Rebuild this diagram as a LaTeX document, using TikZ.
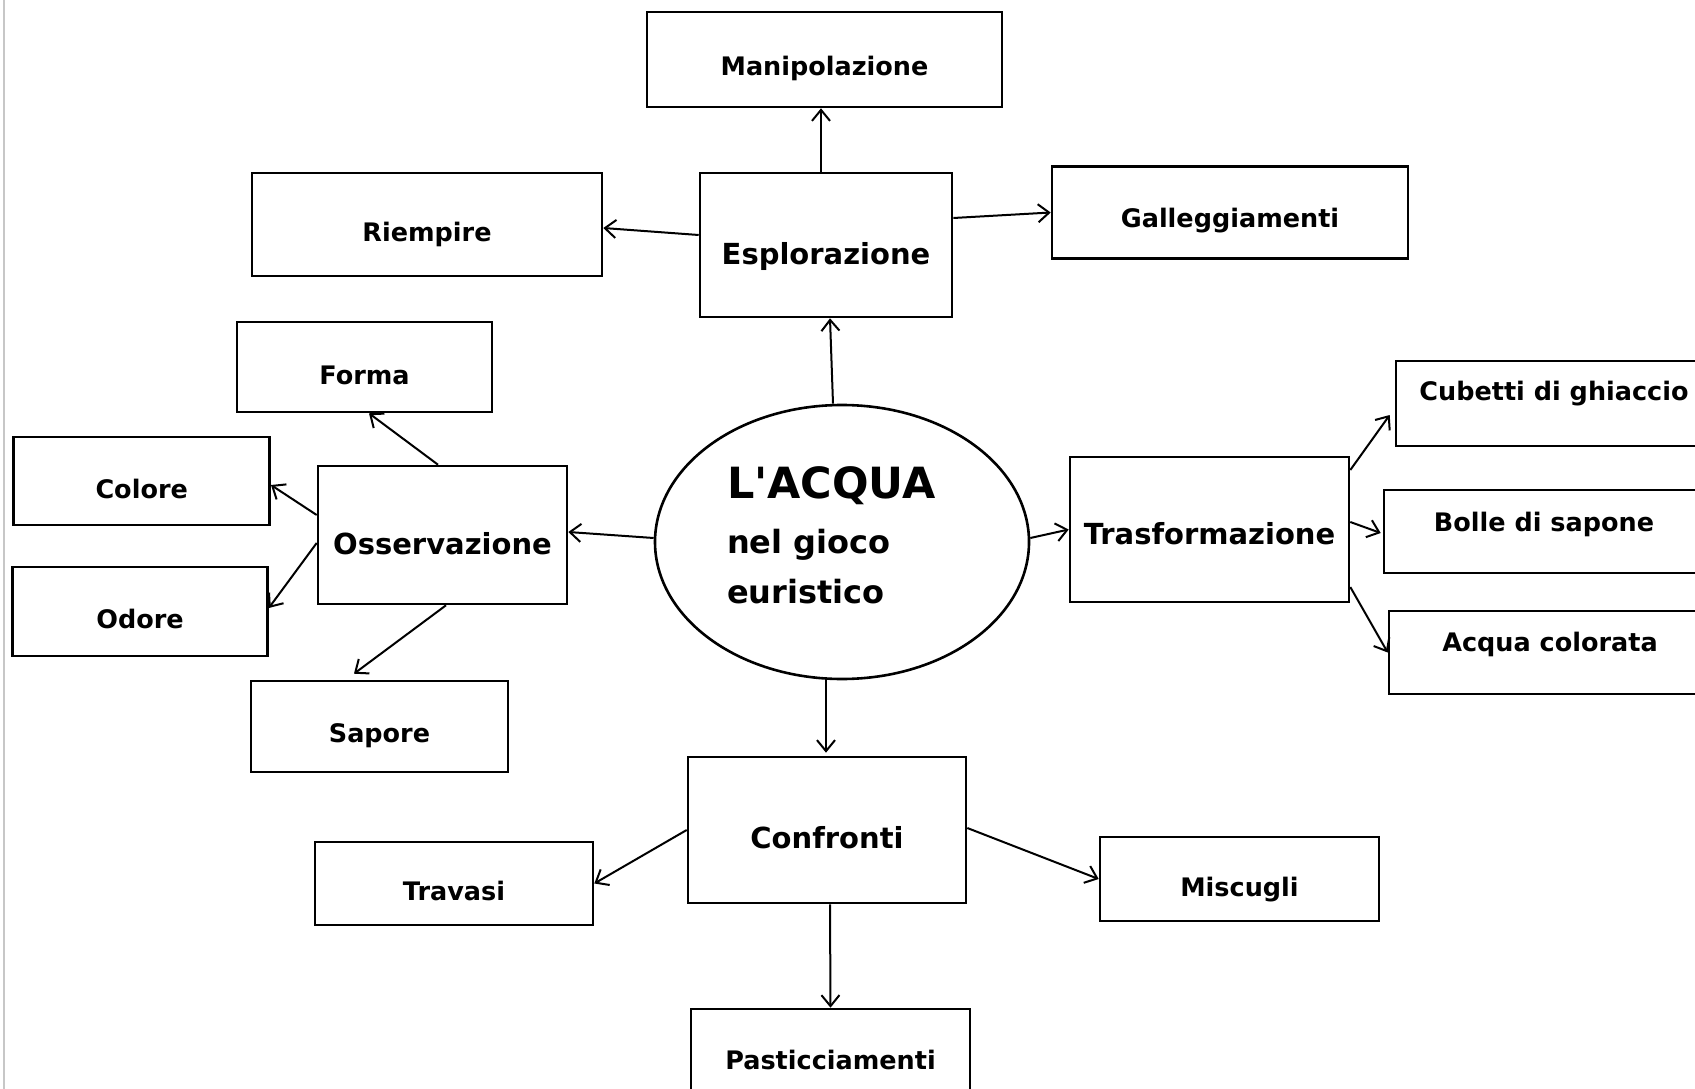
\documentclass[tikz,border=0pt]{standalone}
\usepackage{fontspec}
\setmainfont{DejaVu Sans}[Ligatures=TeXOff]
\usetikzlibrary{arrows.meta,calc,shapes.geometric}
\begin{document}
\begin{tikzpicture}[x=1pt,y=-1pt,
  box/.style={draw, line width=2.6pt, inner sep=0pt, text depth=0pt, text height=34pt,
    font=\bfseries\fontsize{25.5}{30}\selectfont},
  cat/.style={box, text height=39pt, font=\bfseries\fontsize{29}{34}\selectfont},
  sz/.style n args={2}{minimum width=#1, minimum height=#2},
  th/.style={text height=#1},
  td/.style={text depth=#1},
  arr/.style={line width=2pt, -{Straight Barb[length=11pt,width=18pt,line width=2pt]}},
]
\fill[white] (0,0) rectangle (1695,1089);
\useasboundingbox (0,0) rectangle (1695,1089);
\draw[black!22, line width=1.5pt] (4,0) -- (4,1089);

% central ellipse
\node[draw, ellipse, line width=2.6pt, inner sep=0pt, minimum width=374, minimum height=274,
  align=left, font=\bfseries\fontsize{32}{50}\selectfont] (ell) at (842,542)
  {\makebox[230pt][l]{\fontsize{43}{50}\selectfont L'ACQUA}\\[5pt]nel gioco\\euristico\rule[-14pt]{0pt}{14pt}};

% category boxes
\node[cat, sz={252}{144}] (esp) at (826,245) {Esplorazione};
\node[cat, sz={249}{138}] (oss) at (442.5,535) {Osservazione};
\node[cat, sz={279}{145}, th=30pt] (tra) at (1209.5,529.5) {Trasformazione};
\node[cat, sz={278}{146}, th=36pt] (con) at (827,830) {Confronti};

% leaf boxes
\node[box, sz={355}{95}, th=31.6pt] (man) at (824.5,59.5) {Manipolazione};
\node[box, sz={350}{103}] (riem) at (427,224.5) {Riempire};
\node[box, sz={356}{92}, th=29.6pt] (gal) at (1230,212.5) {Galleggiamenti};
\node[box, sz={255}{90}] (forma) at (364.5,367) {Forma};
\node[box, sz={256}{88}] (col) at (141.7,481) {Colore};
\node[box, sz={255}{89}] (odo) at (140,611.5) {Odore};
\node[box, sz={257}{91}, th=31.6pt] (sap) at (379.5,726.5) {Sapore};
\node[box, sz={316}{85}, th=0pt, td=6.4pt] (cub) at (1554,403.5) {Cubetti di ghiaccio};
\node[box, sz={320}{83}, th=0.6pt] (bol) at (1544,531.5) {Bolle di sapone};
\node[box, sz={322}{83}, th=0pt, td=1.4pt] (acq) at (1550,652.5) {Acqua colorata};
\node[box, sz={278}{83}] (trav) at (454,883.5) {Travasi};
\node[box, sz={279}{84}] (mis) at (1239.5,879) {Miscugli};
\node[box, sz={279}{91}, th=29.6pt] (pas) at (830.5,1054.5) {Pasticciamenti};

% connectors
\draw[arr] ($(esp.north)+(-5,0)$) -- ($(man.south)+(-3.5,0)$);
\draw[arr] ($(esp.west)+(0,-10)$) -- ($(riem.east)+(0,3.5)$);
\draw[arr] ($(esp.east)+(0,-27)$) -- (gal.west);
\draw[arr] ($(ell.north)+(-9,0)$) -- ($(esp.south)+(4,0)$);
\draw[arr] ($(ell.west)+(0,-4)$) -- ($(oss.east)+(0,-3)$);
\draw[arr] ($(oss.north)+(-4.5,0)$) -- ($(forma.south)+(4.5,0)$);
\draw[arr] ($(oss.west)+(0,-20)$) -- ($(col.east)+(0,4)$);
\draw[arr] ($(oss.west)+(0,8)$) -- ($(odo.east)+(0,-3.5)$);
\draw[arr] ($(oss.south)+(3.5,0)$) -- ($(sap.north)+(-25.5,-6)$);
\draw[arr] ($(ell.east)+(0,-4)$) -- (tra.west);
\draw[arr] ($(tra.east)+(0,-59.5)$) -- ($(cub.west)+(-5,11.5)$);
\draw[arr] ($(tra.east)+(0,-7.5)$) -- ($(bol.west)+(-2,1.5)$);
\draw[arr] ($(tra.east)+(0,57.5)$) -- (acq.west);
\draw[arr] ($(ell.south)+(-16,0)$) -- ($(con.north)+(-1,-3)$);
\draw[arr] (con.west) -- (trav.east);
\draw[arr] ($(con.east)+(0,-2)$) -- (mis.west);
\draw[arr] ($(con.south)+(3,0)$) -- (pas.north);
\end{tikzpicture}
\end{document}
